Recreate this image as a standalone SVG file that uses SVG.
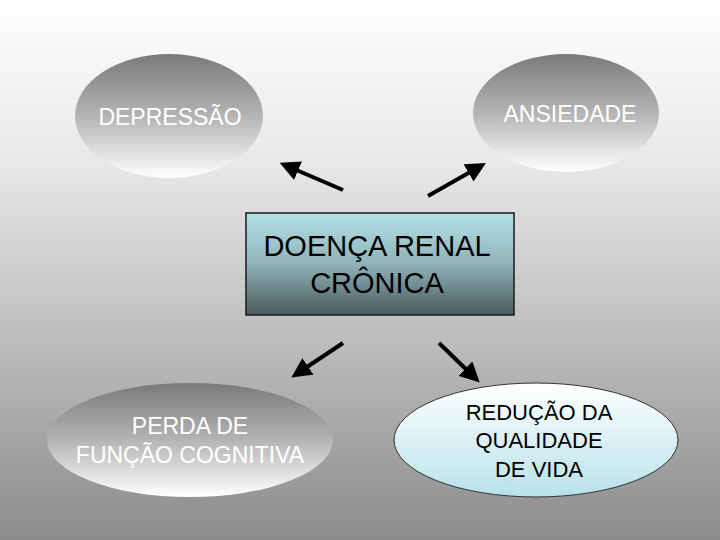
<svg xmlns="http://www.w3.org/2000/svg" width="720" height="540" viewBox="0 0 720 540">
<defs>
<linearGradient id="bg" x1="0" y1="0" x2="0" y2="1"><stop offset="0" stop-color="#ffffff"/><stop offset="0.3" stop-color="#e8e8e8"/><stop offset="1" stop-color="#8c8c8c"/></linearGradient>
<linearGradient id="gray" x1="0" y1="0" x2="0" y2="1"><stop offset="0" stop-color="#7a7a7a"/><stop offset="0.5" stop-color="#b4b4b4"/><stop offset="1" stop-color="#ffffff"/></linearGradient>
<linearGradient id="cyan" x1="0" y1="0" x2="0" y2="1"><stop offset="0" stop-color="#ffffff"/><stop offset="1" stop-color="#b8e2ea"/></linearGradient>
<linearGradient id="box" x1="0" y1="0" x2="0" y2="1"><stop offset="0" stop-color="#b4e2e8"/><stop offset="0.5" stop-color="#8fb3b8"/><stop offset="1" stop-color="#4a5a5e"/></linearGradient>
<marker id="ah" markerWidth="5" markerHeight="5" refX="3" refY="2.5" orient="auto" markerUnits="strokeWidth"><path d="M0,0 L5,2.5 L0,5 Z" fill="#000"/></marker>
<style>
.w{fill:#ffffff;font-family:"Liberation Sans",Arial,sans-serif;font-size:23px;text-anchor:middle}
.b{fill:#000000;font-family:"Liberation Sans",Arial,sans-serif;text-anchor:middle}
.c{stroke:#000;stroke-width:4;fill:none;marker-end:url(#ah)}
</style>
</defs>
<rect width="720" height="540" fill="url(#bg)"/>
<g id="depressao"><ellipse cx="169" cy="116" rx="94" ry="62" fill="url(#gray)"/><text class="w" x="170" y="125">DEPRESSÃO</text></g>
<g id="ansiedade"><ellipse cx="566" cy="113" rx="93" ry="59" fill="url(#gray)"/><text class="w" x="570" y="122" font-size="24">ANSIEDADE</text></g>
<g id="drc"><rect x="246" y="213" width="268" height="102" fill="url(#box)" stroke="#1a1a1a" stroke-width="1.5"/><text class="b" x="377" y="256" font-size="29">DOENÇA RENAL</text><text class="b" x="377" y="293" font-size="29">CRÔNICA</text></g>
<g id="perda"><ellipse cx="190" cy="440" rx="143" ry="57" fill="url(#gray)"/><text class="w" x="190" y="434" font-size="24">PERDA DE</text><text class="w" x="190" y="463" font-size="24">FUNÇÃO COGNITIVA</text></g>
<g id="reducao"><ellipse cx="536" cy="440" rx="142" ry="57" fill="url(#cyan)" stroke="#333" stroke-width="1"/><text class="b" x="539" y="420" font-size="22">REDUÇÃO DA</text><text class="b" x="539" y="448" font-size="22">QUALIDADE</text><text class="b" x="539" y="477" font-size="22">DE VIDA</text></g>
<g id="connectors">
<line class="c" x1="343" y1="190" x2="287" y2="166"/>
<line class="c" x1="428" y1="196" x2="479" y2="167"/>
<line class="c" x1="343" y1="343" x2="298" y2="373"/>
<line class="c" x1="439" y1="343" x2="474" y2="377"/>
</g>
</svg>
